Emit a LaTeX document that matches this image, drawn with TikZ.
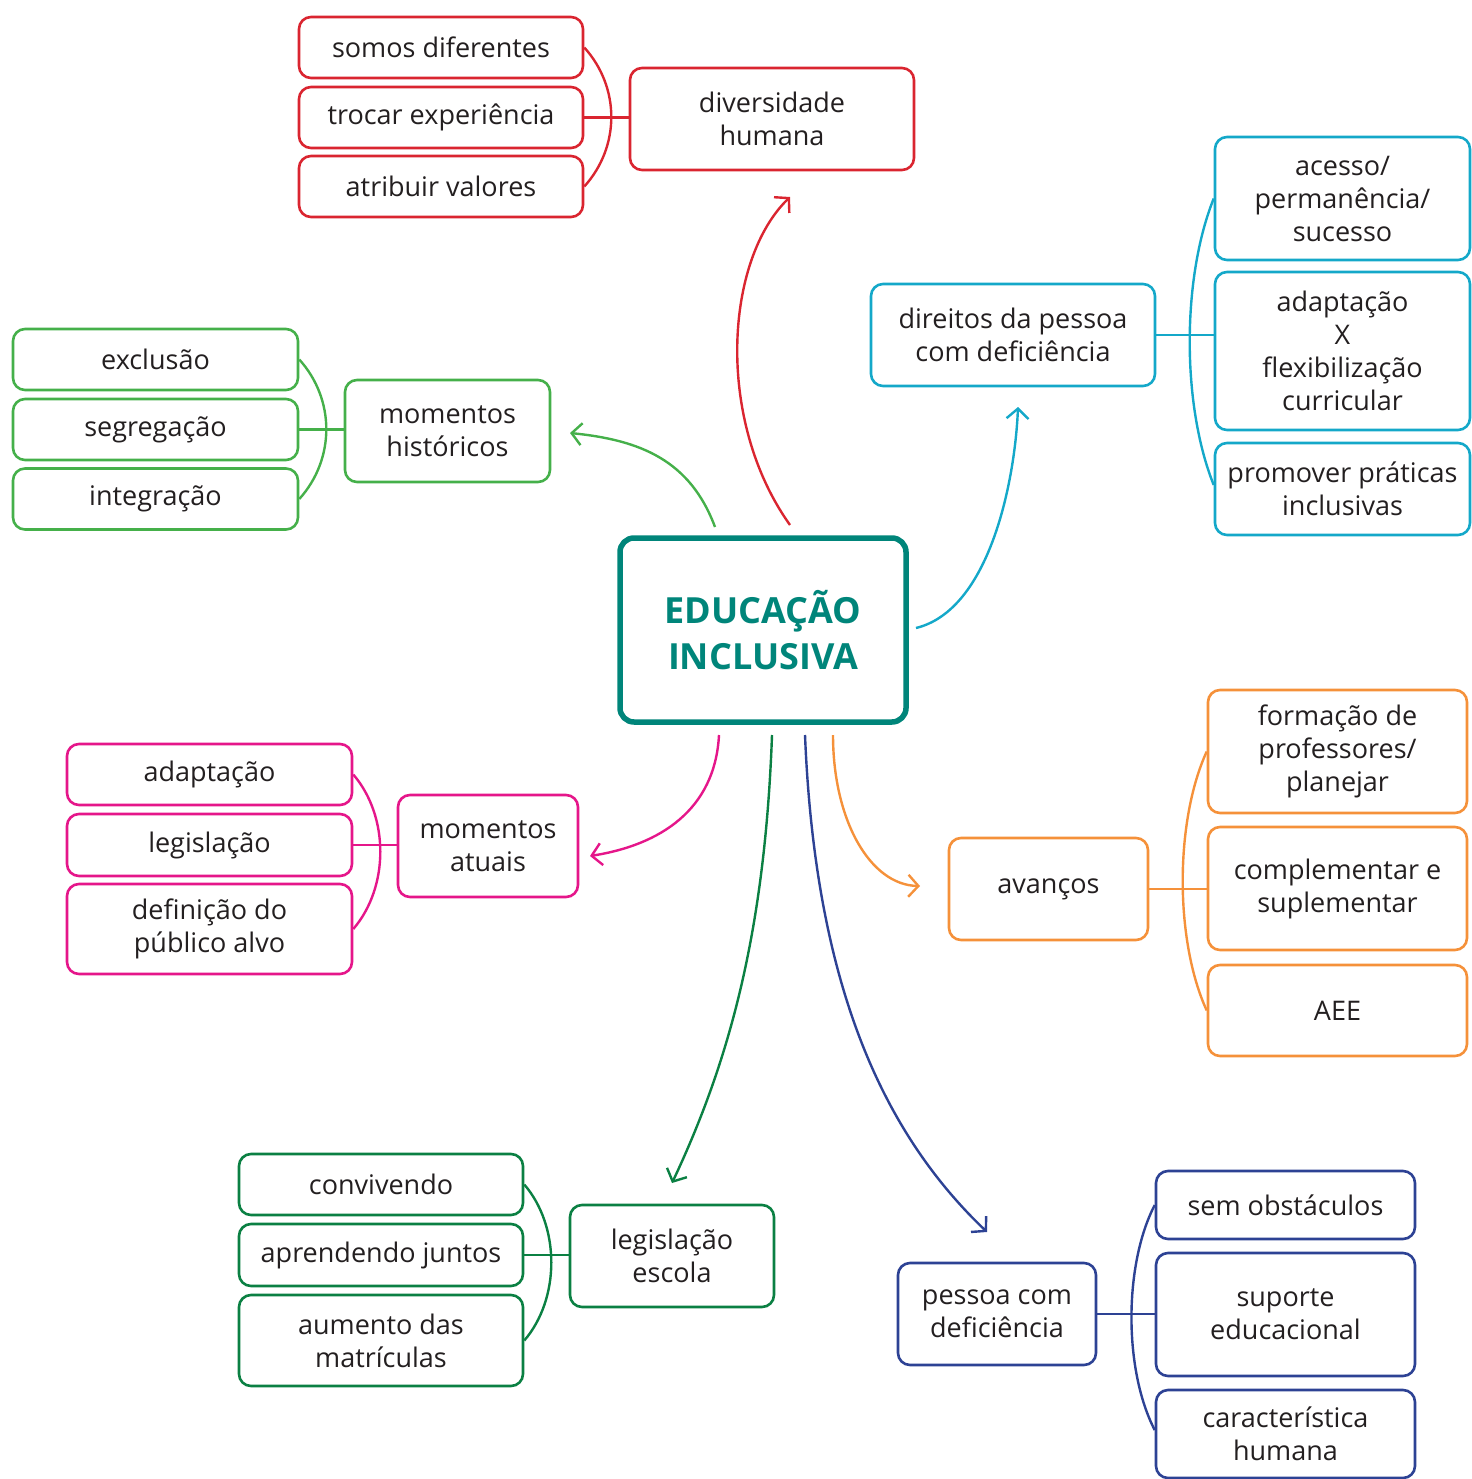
\documentclass[tikz,border=0pt]{standalone}
\usepackage{fontspec}
\setmainfont{Open Sans}
\usetikzlibrary{arrows.meta}
\definecolor{txt}{HTML}{231F20}
\definecolor{cred}{HTML}{DA2530}
\definecolor{cgreen}{HTML}{45B04A}
\definecolor{ccyan}{HTML}{14A8C9}
\definecolor{cteal}{HTML}{00857A}
\definecolor{cmag}{HTML}{E5168A}
\definecolor{corange}{HTML}{F5913A}
\definecolor{cdgreen}{HTML}{0B8043}
\definecolor{cnavy}{HTML}{2D4294}
\tikzset{
  box/.style={draw, rounded corners=12pt, line width=2.6pt, fill=white, align=center,
    inner sep=0pt, text=txt, font=\fontsize{27}{33}\selectfont},
  link/.style={line width=2.4pt},
  arr/.style={line width=2.4pt, -{Straight Barb[length=10pt,width=22pt,line width=2.4pt]}},
}
\begin{document}
\begin{tikzpicture}[x=1pt,y=-1pt]
\useasboundingbox (0,0) rectangle (1471,1479);

% central
\node[box, draw=cteal, line width=5.5pt, rounded corners=14pt, minimum width=286pt, minimum height=184pt,
  text=cteal, font=\fontsize{36}{46}\selectfont\bfseries] (ce) at (763,630) {EDUCAÇÃO\\INCLUSIVA};

% red group
\node[box, draw=cred, minimum width=284pt, minimum height=61pt] (r1) at (441,47.5) {somos diferentes};
\node[box, draw=cred, minimum width=284pt, minimum height=61pt] (r2) at (441,117.5) {trocar experiência};
\node[box, draw=cred, minimum width=284pt, minimum height=61pt] (r3) at (441,186.5) {atribuir valores};
\node[box, draw=cred, minimum width=284pt, minimum height=102pt] (rm) at (772,119) {diversidade\\humana};
\draw[link, cred] (r1.east) .. controls +(36,40) and +(36,-40) .. (r3.east);
\draw[link, cred] (r2.east) -- (r2.east -| rm.west);

% light green group
\node[box, draw=cgreen, minimum width=285pt, minimum height=61pt] (g1) at (155.5,359.5) {exclusão};
\node[box, draw=cgreen, minimum width=285pt, minimum height=61pt] (g2) at (155.5,429.5) {segregação};
\node[box, draw=cgreen, minimum width=285pt, minimum height=61pt] (g3) at (155.5,499) {integração};
\node[box, draw=cgreen, minimum width=205pt, minimum height=102pt] (gm) at (447.5,431) {momentos\\históricos};
\draw[link, cgreen] (g1.east) .. controls +(36,40) and +(36,-40) .. (g3.east);
\draw[link, cgreen] (g2.east) -- (g2.east -| gm.west);

% cyan group
\node[box, draw=ccyan, minimum width=284pt, minimum height=102pt] (cm) at (1013,335) {direitos da pessoa\\com deficiência};
\node[box, draw=ccyan, minimum width=255pt, minimum height=123pt] (c1) at (1342.5,198.5) {acesso/\\permanência/\\sucesso};
\node[box, draw=ccyan, minimum width=255pt, minimum height=158pt] (c2) at (1342.5,351) {adaptação\\X\\flexibilização\\curricular};
\node[box, draw=ccyan, minimum width=255pt, minimum height=92pt] (c3) at (1342.5,489) {promover práticas\\inclusivas};
\draw[link, ccyan] (c1.west) .. controls +(-32,80) and +(-32,-80) .. ([yshift=4pt]c3.west);
\draw[link, ccyan] (cm.east) -- (cm.east -| c2.west);

% magenta group
\node[box, draw=cmag, minimum width=285pt, minimum height=61pt] (m1) at (209.5,774.5) {adaptação};
\node[box, draw=cmag, minimum width=285pt, minimum height=62pt] (m2) at (209.5,845) {legislação};
\node[box, draw=cmag, minimum width=285pt, minimum height=90pt] (m3) at (209.5,929) {definição do\\público alvo};
\node[box, draw=cmag, minimum width=180pt, minimum height=102pt] (mm) at (488,846) {momentos\\atuais};
\draw[link, cmag] (m1.east) .. controls +(36,42) and +(36,-42) .. (m3.east);
\draw[link, cmag] (m2.east) -- (m2.east -| mm.west);

% orange group
\node[box, draw=corange, minimum width=199pt, minimum height=102pt] (om) at (1048.5,889) {avanços};
\node[box, draw=corange, minimum width=259pt, minimum height=123pt] (o1) at (1337.5,751.5) {formação de\\professores/\\planejar};
\node[box, draw=corange, minimum width=259pt, minimum height=123pt] (o2) at (1337.5,888.5) {complementar e\\suplementar};
\node[box, draw=corange, minimum width=259pt, minimum height=91pt] (o3) at (1337.5,1010.5) {AEE};
\draw[link, corange] (o1.west) .. controls +(-32,70) and +(-32,-70) .. (o3.west);
\draw[link, corange] (om.east) -- (om.east -| o2.west);

% dark green group
\node[box, draw=cdgreen, minimum width=284pt, minimum height=61pt] (d1) at (381,1184.5) {convivendo};
\node[box, draw=cdgreen, minimum width=284pt, minimum height=62pt] (d2) at (381,1255) {aprendendo juntos};
\node[box, draw=cdgreen, minimum width=284pt, minimum height=91pt] (d3) at (381,1340.5) {aumento das\\matrículas};
\node[box, draw=cdgreen, minimum width=204pt, minimum height=102pt] (dm) at (672,1256) {legislação\\escola};
\draw[link, cdgreen] (d1.east) .. controls +(36,42) and +(36,-42) .. (d3.east);
\draw[link, cdgreen] (d2.east) -- (d2.east -| dm.west);

% navy group
\node[box, draw=cnavy, minimum width=198pt, minimum height=102pt] (nm) at (997,1314) {pessoa com\\deficiência};
\node[box, draw=cnavy, minimum width=259pt, minimum height=68pt] (n1) at (1285.5,1205) {sem obstáculos};
\node[box, draw=cnavy, minimum width=259pt, minimum height=123pt] (n2) at (1285.5,1314.5) {suporte\\educacional};
\node[box, draw=cnavy, minimum width=259pt, minimum height=88pt] (n3) at (1285.5,1434) {característica\\humana};
\draw[link, cnavy] (n1.west) .. controls +(-31,60) and +(-31,-60) .. ([yshift=4pt]n3.west);
\draw[link, cnavy] (nm.east) -- (nm.east -| n2.west);

% arrow ends
\coordinate (aRs) at (790,525);  \coordinate (aRe) at (790,197);
\coordinate (aGs) at (715,527);  \coordinate (aGe) at (570,433);
\coordinate (aCs) at (916,628);  \coordinate (aCe) at (1018,407);
\coordinate (aMs) at (719,735);  \coordinate (aMe) at (590,856);
\coordinate (aOs) at (833,735);  \coordinate (aOe) at (920,886);
\coordinate (aDs) at (772,735);  \coordinate (aDe) at (672,1183);
\coordinate (aNs) at (805,735);  \coordinate (aNe) at (987,1232);

\draw[arr, cred] (aRs) .. controls (715,420) and (725,260) .. (aRe);
\draw[arr, cgreen] (aGs) .. controls (690,460) and (640,440) .. (aGe);
\draw[arr, ccyan] (aCs) .. controls (990,610) and (1015,480) .. (aCe);
\draw[arr, cmag] (aMs) .. controls (715,810) and (660,845) .. (aMe);
\draw[arr, corange] (aOs) .. controls (833,820) and (870,885) .. (aOe);
\draw[arr, cdgreen] (aDs) .. controls (765,930) and (730,1060) .. (aDe);
\draw[arr, cnavy] (aNs) .. controls (815,980) and (880,1130) .. (aNe);
\end{tikzpicture}
\end{document}
